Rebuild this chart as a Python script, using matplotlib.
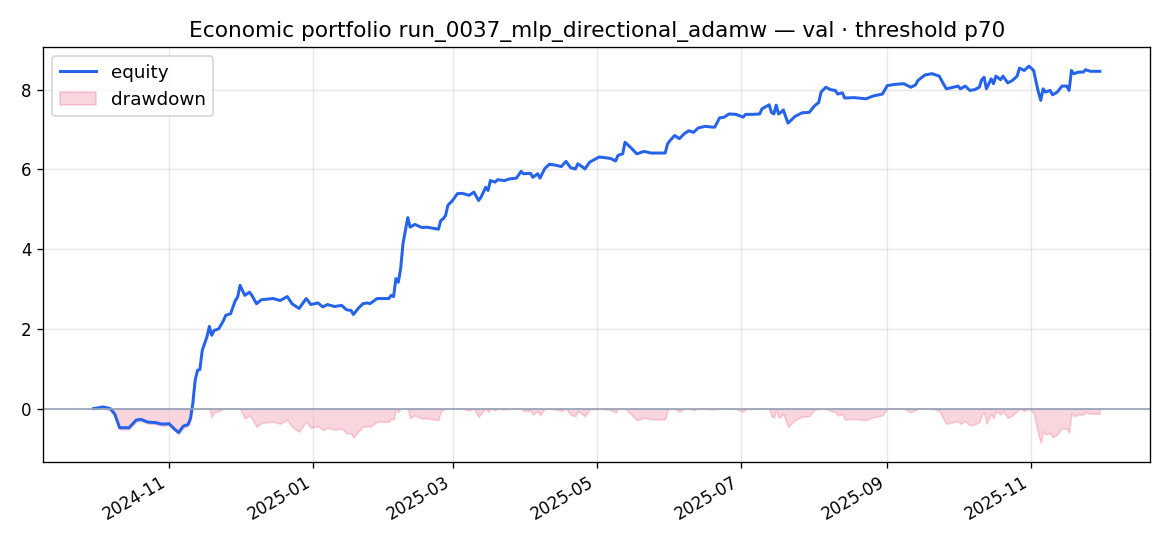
import numpy as np
import pandas as pd
import matplotlib
matplotlib.use("Agg")
import matplotlib.pyplot as plt
import matplotlib.dates as mdates

dates = [
    "2024-09-30", "2024-10-04", "2024-10-07", "2024-10-09", "2024-10-11", "2024-10-15",
    "2024-10-18", "2024-10-20", "2024-10-23", "2024-10-26", "2024-10-29", "2024-11-01",
    "2024-11-03", "2024-11-05", "2024-11-07", "2024-11-09", "2024-11-10", "2024-11-11",
    "2024-11-12", "2024-11-13", "2024-11-14", "2024-11-15", "2024-11-17", "2024-11-18",
    "2024-11-19", "2024-11-20", "2024-11-22", "2024-11-24", "2024-11-25", "2024-11-27",
    "2024-11-29", "2024-11-30", "2024-12-01", "2024-12-03", "2024-12-05", "2024-12-06",
    "2024-12-08", "2024-12-10", "2024-12-15", "2024-12-18", "2024-12-21", "2024-12-23",
    "2024-12-26", "2024-12-29", "2024-12-31", "2025-01-03", "2025-01-05", "2025-01-07",
    "2025-01-10", "2025-01-13", "2025-01-15", "2025-01-17", "2025-01-18", "2025-01-20",
    "2025-01-22", "2025-01-24", "2025-01-25", "2025-01-28", "2025-01-31", "2025-02-02",
    "2025-02-03", "2025-02-04", "2025-02-05", "2025-02-06", "2025-02-07", "2025-02-08",
    "2025-02-10", "2025-02-11", "2025-02-13", "2025-02-16", "2025-02-18", "2025-02-21",
    "2025-02-23", "2025-02-24", "2025-02-25", "2025-02-26", "2025-02-27", "2025-03-01",
    "2025-03-03", "2025-03-05", "2025-03-08", "2025-03-10", "2025-03-12", "2025-03-13",
    "2025-03-15", "2025-03-16", "2025-03-17", "2025-03-19", "2025-03-20", "2025-03-23",
    "2025-03-25", "2025-03-28", "2025-03-30", "2025-03-31", "2025-04-03", "2025-04-04",
    "2025-04-06", "2025-04-07", "2025-04-09", "2025-04-11", "2025-04-14", "2025-04-16",
    "2025-04-18", "2025-04-20", "2025-04-22", "2025-04-23", "2025-04-25", "2025-04-26",
    "2025-04-28", "2025-05-02", "2025-05-05", "2025-05-07", "2025-05-09", "2025-05-10",
    "2025-05-12", "2025-05-13", "2025-05-15", "2025-05-18", "2025-05-21", "2025-05-24",
    "2025-05-27", "2025-05-30", "2025-05-31", "2025-06-01", "2025-06-03", "2025-06-05",
    "2025-06-07", "2025-06-09", "2025-06-11", "2025-06-13", "2025-06-16", "2025-06-19",
    "2025-06-20", "2025-06-22", "2025-06-24", "2025-06-26", "2025-06-29", "2025-07-02",
    "2025-07-03", "2025-07-06", "2025-07-09", "2025-07-10", "2025-07-13", "2025-07-14",
    "2025-07-15", "2025-07-16", "2025-07-17", "2025-07-18", "2025-07-19", "2025-07-21",
    "2025-07-24", "2025-07-27", "2025-07-30", "2025-08-01", "2025-08-03", "2025-08-04",
    "2025-08-06", "2025-08-08", "2025-08-10", "2025-08-11", "2025-08-13", "2025-08-14",
    "2025-08-18", "2025-08-23", "2025-08-26", "2025-08-30", "2025-09-01", "2025-09-04",
    "2025-09-08", "2025-09-11", "2025-09-13", "2025-09-14", "2025-09-17", "2025-09-20",
    "2025-09-23", "2025-09-24", "2025-09-26", "2025-09-29", "2025-10-01", "2025-10-02",
    "2025-10-04", "2025-10-06", "2025-10-08", "2025-10-10", "2025-10-11", "2025-10-12",
    "2025-10-13", "2025-10-15", "2025-10-16", "2025-10-17", "2025-10-19", "2025-10-20",
    "2025-10-22", "2025-10-24", "2025-10-26", "2025-10-27", "2025-10-29", "2025-10-31",
    "2025-11-02", "2025-11-03", "2025-11-04", "2025-11-05", "2025-11-06", "2025-11-07",
    "2025-11-09", "2025-11-10", "2025-11-12", "2025-11-14", "2025-11-16", "2025-11-17",
    "2025-11-18", "2025-11-19", "2025-11-21", "2025-11-23", "2025-11-24", "2025-11-26",
    "2025-11-30",
]

equity = [
    0.00, 0.04, 0.00, -0.14, -0.48, -0.48,
    -0.29, -0.27, -0.34, -0.35, -0.39, -0.38,
    -0.50, -0.60, -0.44, -0.40, -0.25, 0.13,
    0.71, 0.96, 0.98, 1.46, 1.80, 2.06,
    1.84, 1.96, 2.00, 2.21, 2.34, 2.38,
    2.71, 2.80, 3.09, 2.84, 2.92, 2.84,
    2.63, 2.73, 2.76, 2.71, 2.81, 2.63,
    2.51, 2.76, 2.61, 2.65, 2.55, 2.61,
    2.56, 2.59, 2.48, 2.46, 2.36, 2.51,
    2.63, 2.65, 2.63, 2.76, 2.76, 2.76,
    2.84, 2.81, 3.26, 3.17, 3.51, 4.14,
    4.79, 4.55, 4.62, 4.54, 4.55, 4.52,
    4.50, 4.72, 4.76, 4.84, 5.10, 5.22,
    5.39, 5.40, 5.35, 5.43, 5.22, 5.30,
    5.55, 5.47, 5.72, 5.68, 5.74, 5.72,
    5.76, 5.78, 5.95, 5.89, 5.90, 5.80,
    5.89, 5.78, 6.02, 6.13, 6.10, 6.07,
    6.20, 6.04, 6.01, 6.14, 6.06, 6.01,
    6.18, 6.31, 6.29, 6.27, 6.21, 6.35,
    6.39, 6.68, 6.57, 6.39, 6.45, 6.41,
    6.41, 6.41, 6.64, 6.72, 6.85, 6.77,
    6.89, 6.97, 6.93, 7.04, 7.08, 7.06,
    7.06, 7.29, 7.31, 7.39, 7.38, 7.31,
    7.38, 7.38, 7.39, 7.52, 7.62, 7.43,
    7.39, 7.61, 7.39, 7.43, 7.49, 7.16,
    7.33, 7.42, 7.43, 7.58, 7.68, 7.94,
    8.06, 8.00, 7.98, 7.89, 7.92, 7.79,
    7.80, 7.77, 7.84, 7.89, 8.10, 8.13,
    8.15, 8.06, 8.12, 8.23, 8.37, 8.40,
    8.34, 8.23, 8.02, 8.06, 8.09, 8.02,
    8.09, 7.98, 8.00, 8.06, 8.25, 8.31,
    8.02, 8.27, 8.15, 8.34, 8.25, 8.34,
    8.17, 8.23, 8.34, 8.54, 8.48, 8.59,
    8.48, 8.20, 7.94, 7.73, 8.02, 7.94,
    7.98, 7.87, 7.94, 8.09, 8.09, 7.98,
    8.48, 8.40, 8.44, 8.44, 8.50, 8.46,
    8.46,
]

title = "Economic portfolio run_0037_mlp_directional_adamw \u2014 val \u00b7 threshold p70"

t = pd.to_datetime(dates)
eq = np.array(equity, dtype=float)
dd = eq - np.maximum.accumulate(eq)

fig, ax = plt.subplots(figsize=(9.75, 4.55), dpi=120)
ax.plot(t, eq, color="#2563eb", lw=1.8, label="equity")
ax.fill_between(t, dd, 0, color="#e11d48", alpha=0.18, label="drawdown")
ax.axhline(0, color="#94a3b8", lw=1.0)
ax.grid(True, alpha=0.3)
ax.set_title(title, fontsize=13)
ax.legend(loc="upper left", fontsize=11)
ax.xaxis.set_major_locator(mdates.MonthLocator(bymonth=[1, 3, 5, 7, 9, 11]))
ax.xaxis.set_major_formatter(mdates.DateFormatter("%Y-%m"))
fig.autofmt_xdate()
fig.subplots_adjust(left=0.037, right=0.983, top=0.9134, bottom=0.1544)
fig.savefig("out.png", dpi=120)
